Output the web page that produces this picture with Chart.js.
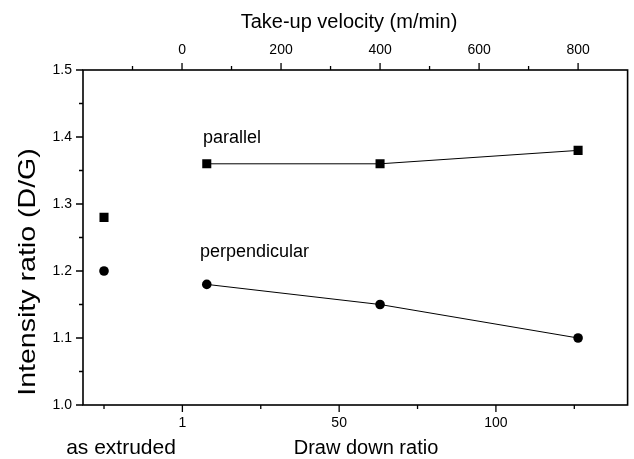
<!DOCTYPE html>
<html>
<head>
<meta charset="utf-8">
<script src="https://cdn.jsdelivr.net/npm/chart.js@4.4.1/dist/chart.umd.min.js"></script>
<style>
	html, body { margin: 0; padding: 0; background: #fff; }
	#wrap { width: 634px; height: 459px; }
</style>
</head>
<body>
<div id="wrap"><canvas id="chart" width="634" height="459"></canvas></div>
<script>
// take-up velocity (m/min) of the drawn samples
var velocity = [50, 400, 800];
var parallel = [1.36, 1.36, 1.38];
var perpendicular = [1.18, 1.15, 1.10];

// "as extruded" sample sits on the draw-down axis, one minor step left of 1
var extrudedPos = [-25];
var extrudedParallel = [1.28];
var extrudedPerpendicular = [1.20];

var topTicks = [-100, 0, 100, 200, 300, 400, 500, 600, 700, 800];
var topLabels = ['', '0', '', '200', '', '400', '', '600', '', '800'];
var bottomTicks = [-25, 0, 25, 50, 75, 100, 125];
var bottomLabels = ['', '1', '', '50', '', '100', ''];
var yTicks = [1.0, 1.05, 1.1, 1.15, 1.2, 1.25, 1.3, 1.35, 1.4, 1.45, 1.5];
var yLabels = ['1.0', '', '1.1', '', '1.2', '', '1.3', '', '1.4', '', '1.5'];

var FONT = "'Liberation Sans', Arial, sans-serif";

function points(xs, ys) {
	return xs.map(function (x, i) { return { x: x, y: ys[i] }; });
}

function setTicks(list) {
	return function (scale) {
		scale.ticks = list.map(function (v) { return { value: v }; });
	};
}

function pickLabel(list) {
	return function (value, index) { return list[index]; };
}

// frame, tick marks (major / minor) and free text
var decor = {
	id: 'decor',
	afterDraw: function (chart) {
		var ctx = chart.ctx;
		var a = chart.chartArea;
		ctx.save();
		ctx.strokeStyle = '#000';
		ctx.lineWidth = 1.6;
		ctx.strokeRect(a.left, a.top, a.right - a.left, a.bottom - a.top);

		ctx.lineWidth = 1.3;
		ctx.beginPath();
		chart.scales.x.ticks.forEach(function (t, i) {
			var px = chart.scales.x.getPixelForValue(t.value);
			var len = topLabels[i] ? 7 : 4;
			ctx.moveTo(px, a.top);
			ctx.lineTo(px, a.top - len);
		});
		chart.scales.x2.ticks.forEach(function (t, i) {
			var px = chart.scales.x2.getPixelForValue(t.value);
			var len = bottomLabels[i] ? 7 : 4;
			ctx.moveTo(px, a.bottom);
			ctx.lineTo(px, a.bottom + len);
		});
		chart.scales.y.ticks.forEach(function (t, i) {
			var py = chart.scales.y.getPixelForValue(t.value);
			var len = yLabels[i] ? 7 : 4;
			ctx.moveTo(a.left, py);
			ctx.lineTo(a.left - len, py);
		});
		ctx.stroke();

		ctx.fillStyle = '#000';
		ctx.textBaseline = 'middle';
		ctx.textAlign = 'center';
		ctx.font = '20px ' + FONT;
		ctx.fillText('Take-up velocity (m/min)', 349, 22);
		ctx.fillText('Draw down ratio', 366, 448);
		ctx.font = '21px ' + FONT;
		ctx.fillText('as extruded', 121, 448);

		ctx.textAlign = 'left';
		ctx.font = '18px ' + FONT;
		ctx.fillText('parallel', 203, 138);
		ctx.fillText('perpendicular', 200, 252);

		// the y title is drawn a little stretched along its length, as in the source
		ctx.translate(28.5, 272);
		ctx.rotate(-Math.PI / 2);
		ctx.scale(1.19, 1);
		ctx.textAlign = 'center';
		ctx.font = '24px ' + FONT;
		ctx.fillText('Intensity ratio (D/G)', 0, 0);
		ctx.restore();
	}
};

var lineStyle = {
	borderColor: '#000',
	backgroundColor: '#000',
	borderWidth: 1,
	pointBorderWidth: 0,
	pointHoverRadius: 0
};

new Chart(document.getElementById('chart'), {
	type: 'scatter',
	data: {
		datasets: [
			Object.assign({
				label: 'parallel',
				data: points(velocity, parallel),
				xAxisID: 'x',
				showLine: true,
				pointStyle: 'rect',
				pointRadius: 6.4
			}, lineStyle),
			Object.assign({
				label: 'perpendicular',
				data: points(velocity, perpendicular),
				xAxisID: 'x',
				showLine: true,
				pointStyle: 'circle',
				pointRadius: 4.8
			}, lineStyle),
			Object.assign({
				label: 'as extruded parallel',
				data: points(extrudedPos, extrudedParallel),
				xAxisID: 'x2',
				showLine: false,
				pointStyle: 'rect',
				pointRadius: 6.4
			}, lineStyle),
			Object.assign({
				label: 'as extruded perpendicular',
				data: points(extrudedPos, extrudedPerpendicular),
				xAxisID: 'x2',
				showLine: false,
				pointStyle: 'circle',
				pointRadius: 4.8
			}, lineStyle)
		]
	},
	options: {
		responsive: false,
		devicePixelRatio: 1,
		animation: false,
		layout: { padding: { left: 0, right: 2, top: 0, bottom: 0 } },
		plugins: { legend: { display: false }, tooltip: { enabled: false } },
		scales: {
			x: {
				type: 'linear',
				position: 'top',
				min: -200,
				max: 900,
				afterBuildTicks: setTicks(topTicks),
				afterFit: function (s) { s.height = 70; },
				grid: { display: false, drawTicks: false },
				border: { display: false },
				ticks: {
					autoSkip: false,
					maxRotation: 0,
					padding: 11,
					color: '#000',
					font: { family: FONT, size: 14 },
					callback: pickLabel(topLabels)
				}
			},
			x2: {
				type: 'linear',
				position: 'bottom',
				min: -31.7,
				max: 142,
				afterBuildTicks: setTicks(bottomTicks),
				afterFit: function (s) { s.height = 54; },
				grid: { display: false, drawTicks: false },
				border: { display: false },
				ticks: {
					autoSkip: false,
					maxRotation: 0,
					padding: 10,
					color: '#000',
					font: { family: FONT, size: 14 },
					callback: pickLabel(bottomLabels)
				}
			},
			y: {
				type: 'linear',
				position: 'left',
				min: 1.0,
				max: 1.5,
				afterBuildTicks: setTicks(yTicks),
				afterFit: function (s) { s.width = 83; },
				grid: { display: false, drawTicks: false },
				border: { display: false },
				ticks: {
					autoSkip: false,
					padding: 11,
					color: '#000',
					font: { family: FONT, size: 14 },
					callback: pickLabel(yLabels)
				}
			}
		}
	},
	plugins: [decor]
});
</script>
</body>
</html>
